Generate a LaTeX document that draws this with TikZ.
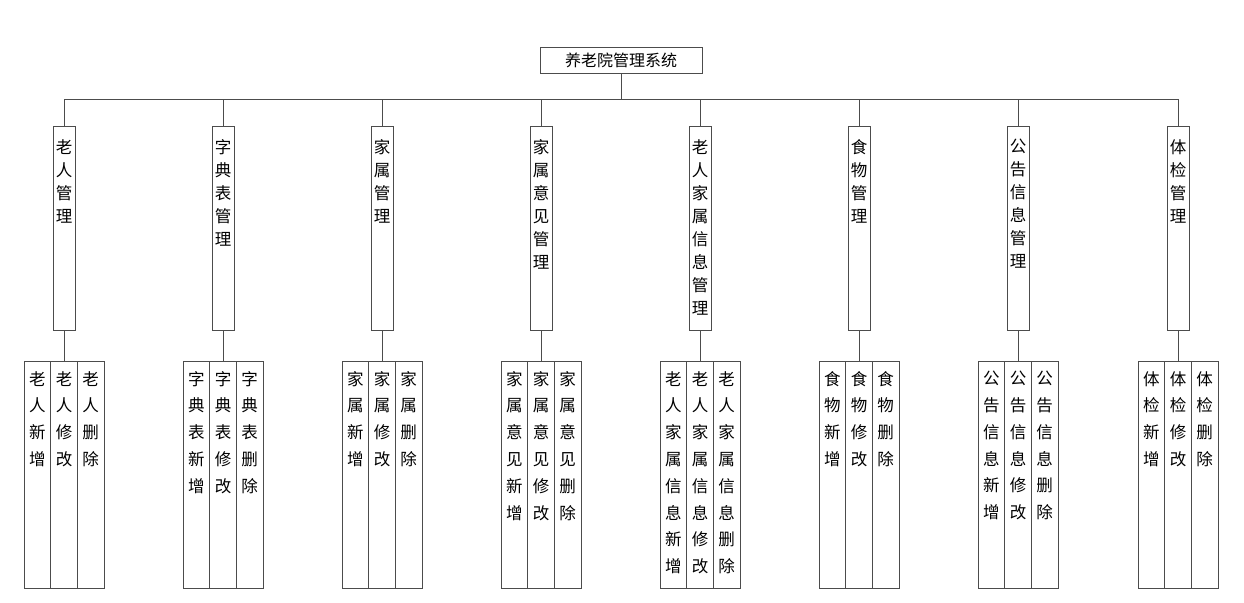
\documentclass[tikz,border=0pt]{standalone}
\usepackage{fontspec}
\setmainfont{Noto Sans CJK SC}
\begin{document}
\begin{tikzpicture}[x=1pt,y=-1pt,
  box/.style={draw=black!70,line width=0.8pt,inner sep=0pt},
  vtxt/.style={anchor=north,inner sep=0pt,align=center,font=\fontsize{16.5}{23}\selectfont},
  ltxt/.style={anchor=north,inner sep=0pt,align=center,font=\fontsize{16.5}{26.8}\selectfont},
  ln/.style={draw=black!70,line width=0.8pt}]
\useasboundingbox (0,0) rectangle (1244,602);
\node[box,minimum width=162,minimum height=26,font=\fontsize{16}{18}\selectfont] (root) at (621,60) {养老院管理系统};
\coordinate (hl) at (621,99);
\foreach \i/\x/\t/\a/\b/\c in {
 1/64/老\\人\\管\\理/老\\人\\新\\增/老\\人\\修\\改/老\\人\\删\\除,
 2/223/字\\典\\表\\管\\理/字\\典\\表\\新\\增/字\\典\\表\\修\\改/字\\典\\表\\删\\除,
 3/382/家\\属\\管\\理/家\\属\\新\\增/家\\属\\修\\改/家\\属\\删\\除,
 4/541/家\\属\\意\\见\\管\\理/家\\属\\意\\见\\新\\增/家\\属\\意\\见\\修\\改/家\\属\\意\\见\\删\\除,
 5/700/老\\人\\家\\属\\信\\息\\管\\理/老\\人\\家\\属\\信\\息\\新\\增/老\\人\\家\\属\\信\\息\\修\\改/老\\人\\家\\属\\信\\息\\删\\除,
 6/859/食\\物\\管\\理/食\\物\\新\\增/食\\物\\修\\改/食\\物\\删\\除,
 7/1018/公\\告\\信\\息\\管\\理/公\\告\\信\\息\\新\\增/公\\告\\信\\息\\修\\改/公\\告\\信\\息\\删\\除,
 8/1178/体\\检\\管\\理/体\\检\\新\\增/体\\检\\修\\改/体\\检\\删\\除}{
  \node[box,minimum width=22,minimum height=204] (m\i) at (\x,228) {};
  \node[vtxt] (mt\i) at (\x,139) {\t};
  \node[box,minimum width=26.7,minimum height=227] (lb\i) at (\x,474.5) {};
  \node[box,minimum width=26.7,minimum height=227] (la\i) at (\x-26.7,474.5) {};
  \node[box,minimum width=26.7,minimum height=227] (lc\i) at (\x+26.7,474.5) {};
  \node[ltxt] (ta\i) at (\x-26.7,371) {\a};
  \node[ltxt] (tb\i) at (\x,371) {\b};
  \node[ltxt] (tc\i) at (\x+26.7,371) {\c};
  \draw[ln] (m\i.south) -- (lb\i.north);
  \draw[ln] (m\i.north) -- (m\i.north |- hl);
}
\draw[ln] (root.south) -- (hl);
\draw[ln] (m1.north |- hl) -- (m8.north |- hl);
\end{tikzpicture}
\end{document}
